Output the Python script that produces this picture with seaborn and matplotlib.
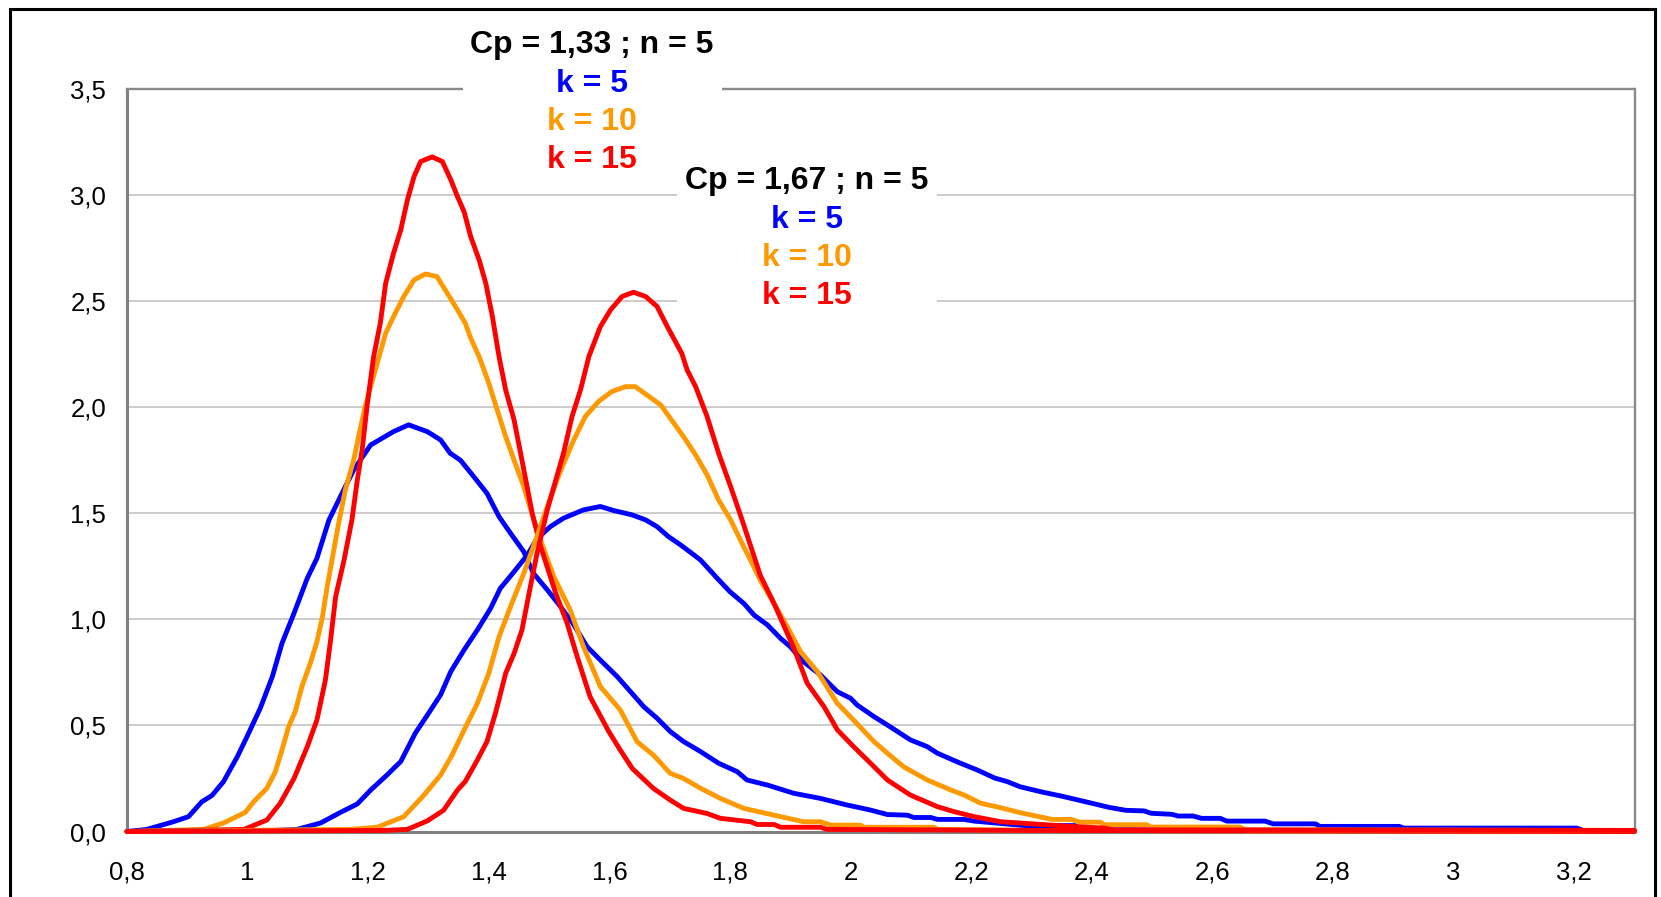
import matplotlib
matplotlib.use("Agg")
import matplotlib.pyplot as plt
import matplotlib.ticker as mticker
from matplotlib.patches import Rectangle
import seaborn as sns
import pandas as pd

# ---------------- data ----------------
# Cp = 1,33 ; n = 5
x_133_k5 = [0.80, 0.833, 0.877, 0.902, 0.924, 0.941, 0.96, 0.983, 0.999, 1.021, 1.041, 1.057, 1.077,
            1.099, 1.115, 1.135, 1.154, 1.176, 1.204, 1.242, 1.267, 1.298, 1.32, 1.336, 1.353, 1.375,
            1.397, 1.417, 1.436, 1.458, 1.474, 1.497, 1.519, 1.541, 1.563, 1.585, 1.613, 1.635, 1.657,
            1.679, 1.701, 1.723, 1.751, 1.781, 1.812, 1.828, 1.862, 1.906, 1.95, 1.994, 2.033, 2.061,
            2.094, 2.105, 2.133, 2.144, 2.188, 2.205, 2.249, 2.288, 2.372, 2.38, 2.42, 3.3]
y_133_k5 = [0.0, 0.01, 0.046, 0.07, 0.14, 0.17, 0.235, 0.353, 0.447, 0.581, 0.73, 0.887, 1.029,
            1.194, 1.288, 1.469, 1.579, 1.705, 1.822, 1.885, 1.917, 1.885, 1.846, 1.783, 1.75, 1.673,
            1.594, 1.484, 1.406, 1.319, 1.217, 1.139, 1.06, 0.974, 0.871, 0.808, 0.73, 0.659, 0.588,
            0.534, 0.471, 0.424, 0.377, 0.322, 0.282, 0.243, 0.219, 0.18, 0.156, 0.125, 0.101, 0.08,
            0.077, 0.066, 0.066, 0.057, 0.057, 0.049, 0.038, 0.028, 0.028, 0.016, 0.008, 0.0]

x_133_k10 = [0.80, 0.927, 0.96, 0.996, 1.01, 1.032, 1.046, 1.057, 1.068, 1.079, 1.09, 1.104, 1.115,
             1.124, 1.132, 1.14, 1.151, 1.162, 1.176, 1.184, 1.195, 1.207, 1.218, 1.229, 1.242, 1.259,
             1.276, 1.295, 1.314, 1.331, 1.348, 1.361, 1.37, 1.384, 1.40, 1.414, 1.428, 1.442, 1.458,
             1.478, 1.495, 1.508, 1.535, 1.557, 1.585, 1.618, 1.646, 1.673, 1.701, 1.723, 1.751, 1.784,
             1.823, 1.873, 1.922, 1.95, 1.967, 2.016, 2.022, 2.138, 2.144, 2.3, 3.3]
y_133_k10 = [0.0, 0.01, 0.04, 0.09, 0.14, 0.204, 0.282, 0.384, 0.494, 0.565, 0.683, 0.793, 0.895,
             1.01, 1.155, 1.28, 1.453, 1.61, 1.752, 1.861, 2.003, 2.128, 2.238, 2.349, 2.427, 2.522,
             2.600, 2.628, 2.616, 2.538, 2.459, 2.396, 2.325, 2.238, 2.113, 1.987, 1.861, 1.75, 1.626,
             1.437, 1.30, 1.20, 1.044, 0.871, 0.683, 0.573, 0.423, 0.36, 0.274, 0.25, 0.204, 0.156,
             0.109, 0.077, 0.046, 0.046, 0.03, 0.03, 0.02, 0.02, 0.01, 0.005, 0.0]

x_133_k15 = [0.80, 0.994, 1.032, 1.054, 1.077, 1.099, 1.115, 1.129, 1.137, 1.146, 1.16, 1.173, 1.182,
             1.19, 1.198, 1.209, 1.220, 1.229, 1.242, 1.254, 1.265, 1.276, 1.287, 1.306, 1.323, 1.337,
             1.348, 1.359, 1.37, 1.384, 1.395, 1.406, 1.417, 1.428, 1.442, 1.455, 1.472, 1.486, 1.511,
             1.53, 1.547, 1.568, 1.599, 1.618, 1.638, 1.673, 1.701, 1.723, 1.762, 1.784, 1.834, 1.845,
             1.873, 1.884, 1.95, 1.961, 2.3, 3.3]
y_133_k15 = [0.0, 0.01, 0.054, 0.133, 0.25, 0.4, 0.526, 0.714, 0.887, 1.107, 1.28, 1.469, 1.657,
             1.80, 2.003, 2.238, 2.395, 2.584, 2.726, 2.836, 2.977, 3.087, 3.158, 3.18, 3.158, 3.072,
             2.993, 2.922, 2.804, 2.694, 2.584, 2.427, 2.238, 2.081, 1.939, 1.75, 1.5, 1.343, 1.123,
             0.981, 0.82, 0.635, 0.471, 0.384, 0.297, 0.203, 0.148, 0.109, 0.085, 0.062, 0.046, 0.033,
             0.033, 0.02, 0.02, 0.01, 0.005, 0.0]

# Cp = 1,67 ; n = 5
x_167_k5 = [0.80, 1.043, 1.082, 1.121, 1.154, 1.182, 1.204, 1.231, 1.254, 1.278, 1.30, 1.32, 1.337,
            1.359, 1.381, 1.403, 1.419, 1.442, 1.464, 1.48, 1.502, 1.524, 1.557, 1.585, 1.607, 1.637,
            1.66, 1.679, 1.698, 1.718, 1.74, 1.751, 1.779, 1.80, 1.823, 1.84, 1.862, 1.884, 1.90, 1.922,
            1.95, 1.978, 2.0, 2.011, 2.039, 2.061, 2.099, 2.127, 2.144, 2.182, 2.21, 2.239, 2.26, 2.281,
            2.316, 2.351, 2.393, 2.428, 2.456, 2.487, 2.498, 2.533, 2.543, 2.568, 2.582, 2.613, 2.624,
            2.687, 2.701, 2.771, 2.778, 2.91, 2.917, 3.204, 3.215, 3.3]
y_167_k5 = [0.0, 0.005, 0.01, 0.04, 0.09, 0.13, 0.195, 0.266, 0.33, 0.463, 0.557, 0.644, 0.754,
            0.856, 0.95, 1.052, 1.146, 1.225, 1.304, 1.38, 1.437, 1.477, 1.516, 1.532, 1.513, 1.493,
            1.469, 1.437, 1.39, 1.351, 1.304, 1.28, 1.193, 1.13, 1.075, 1.02, 0.974, 0.91, 0.871, 0.8,
            0.738, 0.659, 0.628, 0.596, 0.541, 0.502, 0.432, 0.4, 0.369, 0.322, 0.29, 0.252, 0.235, 0.211,
            0.187, 0.166, 0.138, 0.114, 0.1, 0.097, 0.086, 0.081, 0.073, 0.073, 0.062, 0.062, 0.049,
            0.049, 0.036, 0.036, 0.024, 0.024, 0.016, 0.016, 0.005, 0.005]

x_167_k10 = [0.80, 1.17, 1.215, 1.259, 1.292, 1.32, 1.339, 1.359, 1.381, 1.40, 1.417, 1.436, 1.458,
             1.478, 1.497, 1.519, 1.541, 1.56, 1.582, 1.604, 1.627, 1.643, 1.662, 1.685, 1.701, 1.723,
             1.743, 1.762, 1.781, 1.801, 1.82, 1.834, 1.85, 1.873, 1.895, 1.917, 1.945, 1.978, 2.005,
             2.039, 2.061, 2.088, 2.127, 2.166, 2.188, 2.216, 2.246, 2.281, 2.334, 2.366, 2.38, 2.414,
             2.421, 2.491, 2.498, 2.645, 2.655, 3.3]
y_167_k10 = [0.0, 0.01, 0.02, 0.07, 0.17, 0.266, 0.36, 0.478, 0.604, 0.746, 0.918, 1.06, 1.217,
             1.375, 1.532, 1.70, 1.846, 1.956, 2.027, 2.074, 2.097, 2.097, 2.058, 2.011, 1.948, 1.861,
             1.775, 1.681, 1.563, 1.469, 1.358, 1.28, 1.186, 1.075, 0.965, 0.848, 0.753, 0.604, 0.525,
             0.423, 0.369, 0.305, 0.243, 0.196, 0.172, 0.133, 0.114, 0.089, 0.057, 0.057, 0.044, 0.044,
             0.032, 0.032, 0.021, 0.021, 0.008, 0.005]

x_167_k15 = [0.80, 1.226, 1.265, 1.298, 1.325, 1.348, 1.361, 1.381, 1.397, 1.411, 1.428, 1.442, 1.455,
             1.469, 1.48, 1.497, 1.508, 1.524, 1.538, 1.552, 1.566, 1.585, 1.602, 1.621, 1.64, 1.66,
             1.679, 1.696, 1.72, 1.729, 1.743, 1.762, 1.781, 1.801, 1.82, 1.84, 1.85, 1.873, 1.906,
             1.928, 1.956, 1.978, 2.005, 2.033, 2.061, 2.099, 2.144, 2.171, 2.205, 2.249, 2.281, 2.323,
             2.366, 2.421, 2.435, 3.3]
y_167_k15 = [0.0, 0.005, 0.01, 0.05, 0.1, 0.195, 0.236, 0.337, 0.424, 0.557, 0.746, 0.84, 0.95,
             1.155, 1.311, 1.516, 1.626, 1.784, 1.956, 2.081, 2.239, 2.38, 2.459, 2.522, 2.542, 2.522,
             2.475, 2.38, 2.254, 2.175, 2.097, 1.956, 1.784, 1.626, 1.469, 1.296, 1.209, 1.075, 0.864,
             0.699, 0.588, 0.479, 0.4, 0.322, 0.243, 0.172, 0.117, 0.094, 0.070, 0.046, 0.04, 0.032,
             0.024, 0.016, 0.008, 0.005]

series_names = ["Cp133_k5", "Cp133_k10", "Cp133_k15", "Cp167_k5", "Cp167_k10", "Cp167_k15"]
series_x = [x_133_k5, x_133_k10, x_133_k15, x_167_k5, x_167_k10, x_167_k15]
series_y = [y_133_k5, y_133_k10, y_133_k15, y_167_k5, y_167_k10, y_167_k15]
k_labels = ["k = 5", "k = 10", "k = 15"]
group_titles = ["Cp = 1,33 ; n = 5", "Cp = 1,67 ; n = 5"]

x_ticks = [0.8, 1.0, 1.2, 1.4, 1.6, 1.8, 2.0, 2.2, 2.4, 2.6, 2.8, 3.0, 3.2]
x_minor = [0.9, 1.1, 1.3, 1.5, 1.7, 1.9, 2.1, 2.3, 2.5, 2.7, 2.9, 3.1, 3.3]
y_ticks = [0.0, 0.5, 1.0, 1.5, 2.0, 2.5, 3.0, 3.5]

# ---------------- style ----------------
BLUE, ORANGE, RED = "#0000FF", "#FF9900", "#FF0000"
k_colors = [BLUE, ORANGE, RED]

sns.set_style("white")
plt.rcParams['font.family'] = ['Liberation Sans', 'DejaVu Sans']

W, H = 1661, 897
fig = plt.figure(figsize=(W / 100, H / 100), dpi=100)
fig.patch.set_facecolor("white")
ax_l, ax_r, ax_t, ax_b = 127, 1634.5, 89, 831.5
ax = fig.add_axes([ax_l / W, 1 - ax_b / H, (ax_r - ax_l) / W, (ax_b - ax_t) / H])

frames = []
for name, xs, ys in zip(series_names, series_x, series_y):
    frames.append(pd.DataFrame({"x": xs, "y": ys, "series": name}))
df = pd.concat(frames, ignore_index=True)

for i, name in enumerate(series_names):
    sub = df[df["series"] == name]
    sns.lineplot(data=sub, x="x", y="y", color=k_colors[i % 3], linewidth=3.5,
                 estimator=None, sort=False, ax=ax, zorder=3, clip_on=False)

ax.set_xlim(0.8, 3.3)
ax.set_ylim(0, 3.5)
ax.set_xlabel("")
ax.set_ylabel("")

ax.xaxis.set_major_locator(mticker.FixedLocator(x_ticks))
ax.xaxis.set_minor_locator(mticker.FixedLocator(x_minor))
ax.yaxis.set_major_locator(mticker.FixedLocator(y_ticks))
ax.xaxis.set_major_formatter(mticker.FuncFormatter(lambda v, p: ("%g" % round(v, 1)).replace(".", ",")))
ax.yaxis.set_major_formatter(mticker.FuncFormatter(lambda v, p: ("%.1f" % v).replace(".", ",")))

ax.tick_params(axis="x", which="both", direction="out", length=6, width=1.5, color="#808080",
               pad=15, labelsize=18.5, labelcolor="black")
ax.tick_params(axis="y", which="major", direction="out", length=5, width=1.5, color="#808080",
               pad=10, labelsize=18.5, labelcolor="black")

ax.grid(axis="y", which="major", color="#c8c8c8", linewidth=1.3, zorder=0)
ax.grid(axis="x", visible=False)
ax.set_axisbelow(True)

for side in ["left", "bottom"]:
    ax.spines[side].set_color("#808080")
    ax.spines[side].set_linewidth(2.2)
for side in ["top", "right"]:
    ax.spines[side].set_color("#8a8a8a")
    ax.spines[side].set_linewidth(1.7)

# white label boxes (in figure pixels, y from top)
def px_rect(x0, x1, y0, y1):
    return Rectangle((x0 / W, 1 - y1 / H), (x1 - x0) / W, (y1 - y0) / H,
                     transform=fig.transFigure, facecolor="white", edgecolor="none", zorder=5)

fig.add_artist(px_rect(463, 722, 18, 175))
fig.add_artist(px_rect(677, 937, 160, 316))

label_blocks = [(592, [45.5, 83.5, 121.5, 159.5]), (807, [180.5, 219.5, 257.5, 295.5])]
for (cx, ys), title in zip(label_blocks, group_titles):
    texts = [title] + k_labels
    colors = ["black"] + k_colors
    for t, c, yy in zip(texts, colors, ys):
        fig.text(cx / W, 1 - yy / H, t, color=c, fontsize=23, fontweight="bold",
                 ha="center", va="center", zorder=6)

# outer chart border (bottom edge lies outside the image)
fig.add_artist(Rectangle((10 / W, -20 / H), (1655 - 10) / W, (H + 20 - 9) / H,
                         transform=fig.transFigure, facecolor="none", edgecolor="black",
                         linewidth=2.2, zorder=7))

fig.savefig("out.png", dpi=100, facecolor="white")
